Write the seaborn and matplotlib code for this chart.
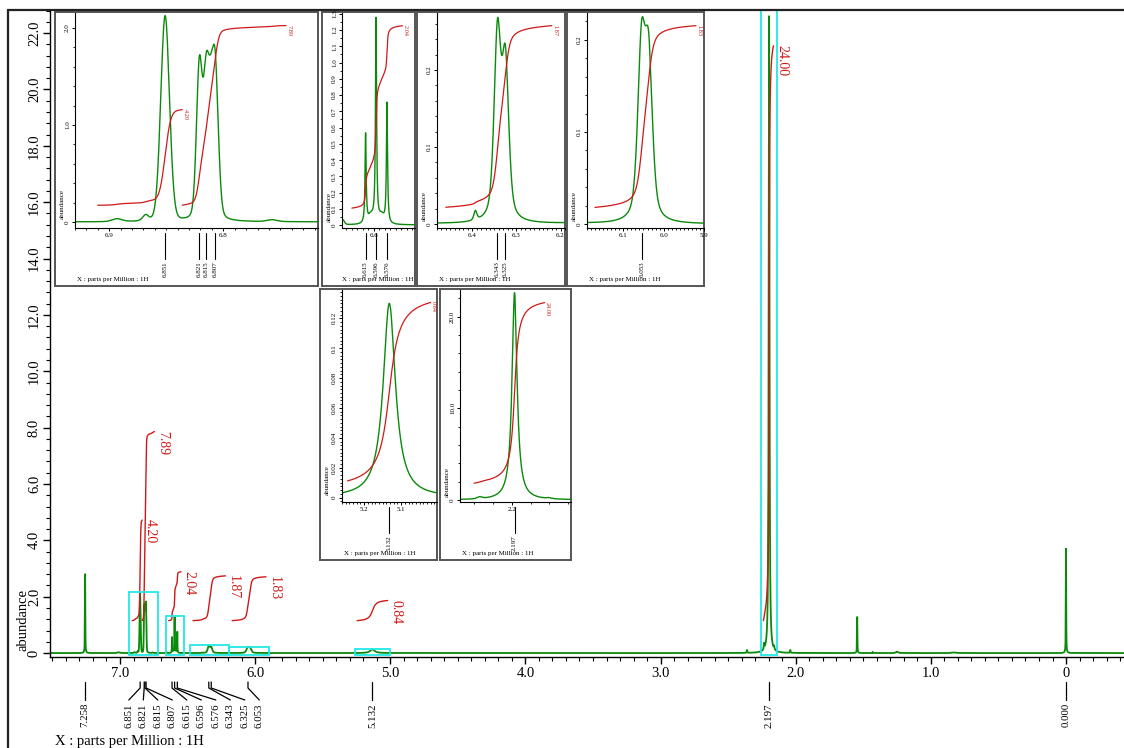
import numpy as np
import matplotlib
matplotlib.use("Agg")
import matplotlib.pyplot as plt
import matplotlib.ticker as mticker
from matplotlib.patches import Rectangle
from matplotlib.lines import Line2D
import seaborn as sns

# ---------------- data ----------------
peak_ppm = [7.258, 7.010, 6.893, 6.868, 6.851, 6.821, 6.815, 6.811, 6.807, 6.757,
            6.656, 6.615, 6.605, 6.596, 6.586, 6.576, 6.393, 6.343, 6.325,
            6.055, 6.037, 5.132, 2.360, 2.234, 2.197, 2.160, 2.040, 1.545,
            1.430, 1.250, 0.830, 0.000]
peak_height = [2.80, 0.03, 0.03, 0.06, 2.12, 1.56, 1.30, 0.80, 1.45, 0.02,
               0.03, 0.55, 0.05, 1.25, 0.05, 0.74, 0.012, 0.24, 0.20,
               0.183, 0.168, 0.13, 0.10, 0.20, 22.6, 0.10, 0.10, 1.28,
               0.04, 0.05, 0.02, 3.70]
peak_hwhm = [0.0015, 0.010, 0.005, 0.003, 0.0045, 0.003, 0.003, 0.003, 0.0032, 0.005,
             0.003, 0.0012, 0.006, 0.0012, 0.006, 0.0012, 0.004, 0.009, 0.009,
             0.011, 0.011, 0.020, 0.002, 0.003, 0.0032, 0.003, 0.002, 0.0015,
             0.002, 0.010, 0.020, 0.0015]
peak_lorentz = [0.8, 0.5, 0.3, 0.3, 0.1, 0.2, 0.2, 0.2, 0.2, 0.5,
                0.5, 1.0, 0.5, 1.0, 0.5, 1.0, 0.5, 0.5, 0.5,
                0.5, 0.5, 1.0, 0.8, 0.5, 1.0, 0.5, 0.8, 0.8,
                0.5, 0.5, 0.5, 0.8]

label_ppm = [7.258, 6.851, 6.821, 6.815, 6.807, 6.615, 6.596, 6.576,
             6.343, 6.325, 6.053, 5.132, 2.197, 0.000]

int_start = [6.910, 6.836, 6.640, 6.460, 6.170, 5.245, 2.240]
int_end = [6.836, 6.745, 6.548, 6.220, 5.920, 5.020, 2.165]
int_value = [4.20, 7.89, 2.04, 1.87, 1.83, 0.84, 24.00]

inset_xlim = [(6.930, 6.717), (6.658, 6.525), (6.480, 6.190),
              (6.190, 5.900), (5.260, 5.003), (2.255, 2.137)]
inset_ylim = [(-0.062, 2.155), (-0.018, 1.305), (-0.005, 0.274),
              (-0.004, 0.229), (-0.003, 0.139), (-0.22, 22.9)]
inset_ymajor = [1.0, 0.1, 0.1, 0.1, 0.02, 10.0]
inset_yminor = [0.2, 0.05, 0.02, 0.02, 0.0025, 2.0]
inset_ydec = [1, 1, 1, 1, 2, 1]

# ---------------- layout (pixels of a 1124x748 image) ----------------
W, H = 1124, 748
inset_box = [(55, 12, 318, 286), (322, 12, 415, 286), (417, 12, 565, 286),
             (567, 12, 704, 286), (320, 289, 437, 560), (440, 289, 571, 560)]
inset_plot = [(75, 13, 318, 228), (342, 13, 415, 228), (437, 13, 565, 228),
              (587, 13, 704, 228), (342, 290, 437, 502), (460, 290, 571, 502)]

GREEN = "#0a8a0a"
RED = "#d01818"
CYAN = "#22e8e8"
SERIF = ["Liberation Serif", "DejaVu Serif"]

sns.set_theme(style="ticks")
plt.rcParams["font.family"] = SERIF
plt.rcParams["axes.edgecolor"] = "black"
plt.rcParams["xtick.color"] = "black"
plt.rcParams["ytick.color"] = "black"
plt.rcParams["text.color"] = "black"


def rect(x0, y0, x1, y1):
    return [x0 / W, 1 - y1 / H, (x1 - x0) / W, (y1 - y0) / H]


def ffrac(xpx, ypx_img):
    return xpx / W, 1 - ypx_img / H


def fmt(dec, strip=False):
    def f(v, p):
        if abs(v) < 1e-9:
            return "0"
        s = f"{v:.{dec}f}"
        if strip and "." in s:
            s = s.rstrip("0")
            if s.endswith("."):
                s += "0"
        return s
    return mticker.FuncFormatter(f)


# ---------------- spectrum ----------------
ppm = np.linspace(-0.45, 7.55, 160001)
intensity = np.zeros_like(ppm)
for x0, h, w, eta in zip(peak_ppm, peak_height, peak_hwhm, peak_lorentz):
    r = ((ppm - x0) / w) ** 2
    intensity += h * (eta / (1 + r) + (1 - eta) * np.exp(-np.log(2) * r))


def integral_curve(a, b):
    m = (ppm <= a) & (ppm >= b)
    xs = ppm[m][::-1]
    ys = intensity[m][::-1]
    cum = np.concatenate([[0], np.cumsum((ys[1:] + ys[:-1]) / 2 * np.abs(np.diff(xs)))])
    return xs, cum / cum[-1]


def spread(pos, gap):
    order = np.argsort(pos)
    p = np.asarray(pos, float)[order]
    groups = [[i] for i in range(len(p))]

    def place(g):
        c = (p[g[0]] + p[g[-1]]) / 2
        n = len(g)
        return [c + (k - (n - 1) / 2) * gap for k in range(n)]

    changed = True
    while changed:
        changed = False
        for gi in range(len(groups) - 1):
            a = place(groups[gi])
            b = place(groups[gi + 1])
            if a[-1] + gap > b[0] + 1e-9:
                groups[gi] = groups[gi] + groups[gi + 1]
                del groups[gi + 1]
                changed = True
                break
    out = np.zeros(len(p))
    for g in groups:
        for idx, v in zip(g, place(g)):
            out[order[idx]] = v
    return out


fig = plt.figure(figsize=(W / 100, H / 100), dpi=100)
fig.patch.set_facecolor("white")

# ---------------- main axes ----------------
ax = fig.add_axes(rect(50, 10, 1124, 657))
ax.set_zorder(0)
ax.set_xlim(7.518, -0.429)
ax.set_ylim(-0.14, 22.82)
sns.lineplot(x=ppm, y=intensity, ax=ax, color=GREEN, linewidth=1.3,
             estimator=None, sort=False, legend=False)
ax.set_xlabel("")
ax.set_ylabel("")
for s in ["top", "right"]:
    ax.spines[s].set_visible(False)
for s in ["left", "bottom"]:
    ax.spines[s].set_linewidth(1.0)
    ax.spines[s].set_color("black")
ax.xaxis.set_major_locator(mticker.MultipleLocator(1.0))
ax.xaxis.set_minor_locator(mticker.MultipleLocator(0.1))
ax.yaxis.set_major_locator(mticker.MultipleLocator(2.0))
ax.yaxis.set_minor_locator(mticker.MultipleLocator(0.4))
ax.xaxis.set_major_formatter(fmt(1))
ax.yaxis.set_major_formatter(fmt(1))
ax.tick_params(which="major", direction="out", length=5, width=1.0, labelsize=10.5)
ax.tick_params(which="minor", direction="out", length=3, width=0.8)
ax.tick_params(axis="x", pad=2)
ax.tick_params(axis="y", pad=1.5)
plt.setp(ax.get_yticklabels(), rotation=90, va="center")

# cyan region boxes
for (xa, xb), (ya, yb) in zip(inset_xlim, inset_ylim):
    top = min(yb, ax.get_ylim()[1])
    ax.add_patch(Rectangle((xb, -0.07), xa - xb, top + 0.07, fill=False,
                           edgecolor=CYAN, linewidth=1.3, zorder=3))

# main integrals
main_base, main_scale = 1.15, 0.85
for a, b, v in zip(int_start, int_end, int_value):
    xs, cum = integral_curve(a, b)
    ys = main_base + cum * v * main_scale
    sns.lineplot(x=xs, y=ys, ax=ax, color=RED, linewidth=1.0,
                 estimator=None, sort=False, legend=False)
    ex, ey = ax.transData.transform((b, ys[-1]))
    fig.text((ex + 8) / W, (ey + 1) / H, f"{v:.2f}", rotation=270, ha="center",
             va="top", fontsize=10, color=RED, zorder=6)
ax.set_xlabel("")
ax.set_ylabel("")

# main peak list
lab_px = [ax.transData.transform((p, 0))[0] for p in label_ppm]
lab_pos = spread(lab_px, 14.5)
for p, xp, xl in zip(label_ppm, lab_px, lab_pos):
    xs_ = [xp / W, xp / W, xl / W]
    ys_ = [1 - 682 / H, 1 - 688 / H, 1 - 700 / H]
    fig.add_artist(Line2D(xs_, ys_, color="black", linewidth=0.9, zorder=6))
    fig.text(xl / W, 1 - 703 / H, f"{p:.3f}", rotation=90, ha="center", va="top",
             fontsize=7.8, zorder=6)

fig.text(*ffrac(23, 620), "abundance", rotation=90, ha="center", va="center", fontsize=10.5)
fig.text(*ffrac(55, 742), "X : parts per Million : 1H", ha="left", va="center", fontsize=10.5)

# outer frame
fig.add_artist(Line2D([8 / W, 8 / W], [0, 1 - 10 / H], color="#222222", linewidth=1.6, zorder=7))
fig.add_artist(Line2D([8 / W, 1], [1 - 10 / H, 1 - 10 / H], color="#222222", linewidth=1.6, zorder=7))

# ---------------- insets ----------------
for k in range(len(inset_xlim)):
    bx = inset_box[k]
    pl = inset_plot[k]
    (xa, xb), (ya, yb) = inset_xlim[k], inset_ylim[k]

    fr = fig.add_axes(rect(*bx))
    fr.set_zorder(1.5)
    fr.set_facecolor("white")
    fr.set_xticks([])
    fr.set_yticks([])
    for s in fr.spines.values():
        s.set_color("#555555")
        s.set_linewidth(1.4)

    ia = fig.add_axes(rect(*pl))
    ia.set_zorder(2)
    ia.patch.set_alpha(0)
    m = (ppm <= xa + 0.002) & (ppm >= xb - 0.002)
    sns.lineplot(x=ppm[m], y=intensity[m], ax=ia, color=GREEN, linewidth=1.0,
                 estimator=None, sort=False, legend=False)
    ia.set_xlim(xa, xb)
    ia.set_ylim(ya, yb)
    for s in ["top", "right"]:
        ia.spines[s].set_visible(False)
    for s in ["left", "bottom"]:
        ia.spines[s].set_linewidth(0.8)
    ia.xaxis.set_major_locator(mticker.MultipleLocator(0.1))
    ia.xaxis.set_minor_locator(mticker.MultipleLocator(0.02 if k == 5 else 0.01))
    ia.yaxis.set_major_locator(mticker.MultipleLocator(inset_ymajor[k]))
    ia.yaxis.set_minor_locator(mticker.MultipleLocator(inset_yminor[k]))
    ia.xaxis.set_major_formatter(fmt(1))
    ia.yaxis.set_major_formatter(fmt(inset_ydec[k], strip=inset_ydec[k] > 1))
    ia.tick_params(which="major", direction="out", length=2.5, width=0.7, labelsize=5, pad=1)
    ia.tick_params(which="minor", direction="out", length=1.5, width=0.6)
    plt.setp(ia.get_yticklabels(), rotation=90, va="center")

    # integrals inside the inset
    members = [i for i in range(len(int_value)) if int_start[i] <= xa + 1e-9 and int_end[i] >= xb - 1e-9]
    if members:
        vmax = max(int_value[i] for i in members)
        base = 0.08 * yb
        scale = 0.86 * yb / vmax
        for i in members:
            xs, cum = integral_curve(int_start[i], int_end[i])
            ys = base + cum * int_value[i] * scale
            sns.lineplot(x=xs, y=ys, ax=ia, color=RED, linewidth=0.9,
                         estimator=None, sort=False, legend=False)
            ex, ey = ia.transData.transform((int_end[i], ys[-1]))
            fig.text((ex + 3) / W, (ey + 1) / H, f"{int_value[i]:.2f}", rotation=270,
                     ha="center", va="top", fontsize=4.5, color=RED, zorder=6)
    ia.set_xlabel("")
    ia.set_ylabel("")

    # inset peak list
    pk = [p for p in label_ppm if xb <= p <= xa]
    if pk:
        px = [ia.transData.transform((p, 0))[0] for p in pk]
        pos = spread(px, 6.0)
        bot = pl[3]
        for p, xp, xl in zip(pk, px, pos):
            fig.add_artist(Line2D([xp / W, xp / W, xl / W],
                                  [1 - (bot + 5) / H, 1 - (bot + 8) / H, 1 - (bot + 31) / H],
                                  color="black", linewidth=0.8, zorder=6))
            fig.text(xl / W, 1 - (bot + 33) / H, f"{p:.3f}", rotation=90, ha="center",
                     va="top", fontsize=5, zorder=6)

    # inset labels
    y0_img = pl[3] - (0 - ya) / (yb - ya) * (pl[3] - pl[1])
    fig.text(*ffrac(bx[0] + 7, y0_img - 3), "abundance", rotation=90, ha="center",
             va="bottom", fontsize=5, zorder=6)
    if bx[2] - pl[0] < 78:
        fig.text(*ffrac(bx[2] - 1, bx[3] - 7), "X : parts per Million : 1H",
                 ha="right", va="center", fontsize=5, zorder=6)
    else:
        fig.text(*ffrac(pl[0] + 2, bx[3] - 7), "X : parts per Million : 1H",
                 ha="left", va="center", fontsize=5, zorder=6)

fig.savefig("out.png", dpi=100)
